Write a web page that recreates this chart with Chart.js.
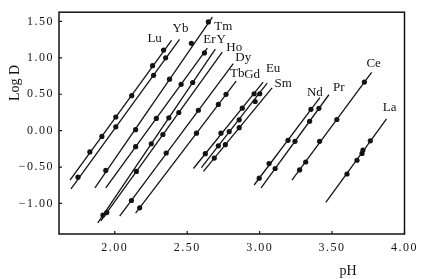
<!DOCTYPE html>
<html>
<head>
<meta charset="utf-8">
<script src="https://cdn.jsdelivr.net/npm/chart.js@4.4.1/dist/chart.umd.min.js"></script>
<style>
  html, body { margin: 0; padding: 0; background: #fff; }
  #wrap { width: 422px; height: 279px; }
</style>
</head>
<body>
<div id="wrap"><canvas id="chart" width="422" height="279"></canvas></div>
<script>
// extraction of the rare earths: log D against pH
var elementNames = ['Lu', 'Yb', 'Tm', 'Er', 'Y', 'Ho', 'Dy', 'Tb', 'Gd', 'Eu', 'Sm', 'Nd', 'Pr', 'Ce', 'La'];

// measured points [pH, log D] for each element, same order as elementNames
var measuredPoints = [
  [[1.828, -0.293], [1.911, -0.08], [2.007, 0.187], [2.117, 0.48], [2.261, 0.893], [2.337, 1.107]],
  [[1.746, -0.64], [2.007, 0.053], [2.268, 0.76], [2.351, 1.0]],
  [[1.938, -0.547], [2.144, 0.013], [2.378, 0.707], [2.529, 1.2], [2.646, 1.493]],
  [[2.144, -0.22], [2.287, 0.168], [2.458, 0.636], [2.619, 1.067]],
  [[1.918, -1.16], [2.252, -0.18], [2.373, 0.176], [2.538, 0.661]],
  [[1.945, -1.125], [2.149, -0.56], [2.332, -0.053], [2.442, 0.249]],
  [[2.115, -0.96], [2.355, -0.307], [2.577, 0.28]],
  [[2.172, -1.061], [2.564, -0.035], [2.715, 0.36], [2.768, 0.499]],
  [[2.625, -0.316], [2.733, -0.035], [2.880, 0.309], [2.962, 0.507]],
  [[2.715, -0.208], [2.790, -0.013], [2.859, 0.149], [3.001, 0.507]],
  [[2.687, -0.377], [2.763, -0.193], [2.859, 0.04], [2.969, 0.4]],
  [[2.997, -0.653], [3.065, -0.453], [3.196, -0.133], [3.354, 0.293]],
  [[3.107, -0.52], [3.244, -0.147], [3.345, 0.129], [3.409, 0.307]],
  [[3.276, -0.54], [3.318, -0.431], [3.414, -0.147], [3.533, 0.153], [3.723, 0.667]],
  [[3.603, -0.596], [3.672, -0.407], [3.707, -0.313], [3.713, -0.267], [3.764, -0.14]]
];

// ends of the drawn straight lines [[pH, logD], [pH, logD]]
var lineEnds = [
  [[1.691, -0.68], [2.392, 1.24]],
  [[1.698, -0.80], [2.447, 1.253]],
  [[1.863, -0.787], [2.674, 1.56]],
  [[1.938, -0.787], [2.639, 1.133]],
  [[1.883, -1.267], [2.694, 1.12]],
  [[1.904, -1.24], [2.742, 1.08]],
  [[2.034, -1.173], [2.818, 0.92]],
  [[2.144, -1.133], [2.838, 0.68]],
  [[2.543, -0.52], [3.024, 0.667]],
  [[2.598, -0.507], [3.052, 0.653]],
  [[2.612, -0.56], [3.086, 0.587]],
  [[2.962, -0.747], [3.416, 0.453]],
  [[3.010, -0.787], [3.478, 0.493]],
  [[3.223, -0.68], [3.773, 0.8]],
  [[3.457, -0.987], [3.876, 0.16]]
];

// where the element names sit
var labelAnchors = [
  [2.275, 1.267], [2.454, 1.40], [2.749, 1.427], [2.653, 1.253], [2.735, 1.253],
  [2.825, 1.147], [2.887, 1.0], [2.845, 0.787], [2.948, 0.773], [3.093, 0.853],
  [3.162, 0.64], [3.381, 0.52], [3.546, 0.587], [3.787, 0.92], [3.897, 0.32]
];

var xTicks = [2.0, 2.5, 3.0, 3.5, 4.0];
var yTicks = [-1.0, -0.5, 0.0, 0.5, 1.0, 1.5];
var xRange = [1.615, 4.0];
var yRange = [-1.42, 1.627];

var ink = '#141414';
var serif = "'Liberation Serif', 'DejaVu Serif', serif";

var toXY = function (p) { return {x: p[0], y: p[1]}; };

var datasets = [];
for (var i = 0; i < elementNames.length; i++) {
  datasets.push({
    label: elementNames[i] + ' line',
    data: lineEnds[i].map(toXY),
    showLine: true,
    borderColor: ink,
    borderWidth: 1.3,
    pointRadius: 0
  });
  datasets.push({
    label: elementNames[i],
    data: measuredPoints[i].map(toXY),
    showLine: false,
    pointRadius: 2.6,
    pointBackgroundColor: ink,
    pointBorderColor: ink,
    pointBorderWidth: 0
  });
}

var fixTicks = function (values) {
  return function (scale) {
    scale.ticks = values.map(function (v) { return {value: v}; });
  };
};

var framePlugin = {
  id: 'frame',
  beforeDraw: function (chart) {
    chart.ctx.letterSpacing = '1.5px';
  },
  beforeDatasetsDraw: function (chart) {
    chart.ctx.letterSpacing = '0px';
  },
  afterDatasetsDraw: function (chart) {
    var ctx = chart.ctx;
    var a = chart.chartArea;
    var sx = chart.scales.x;
    var sy = chart.scales.y;
    ctx.save();
    ctx.letterSpacing = '0px';
    ctx.strokeStyle = ink;
    ctx.lineWidth = 1.5;
    ctx.strokeRect(a.left, a.top, a.right - a.left, a.bottom - a.top);

    // short inward ticks
    ctx.lineWidth = 1.2;
    ctx.beginPath();
    xTicks.forEach(function (v) {
      var px = sx.getPixelForValue(v);
      ctx.moveTo(px, a.bottom);
      ctx.lineTo(px, a.bottom - 3);
    });
    yTicks.forEach(function (v) {
      var py = sy.getPixelForValue(v);
      ctx.moveTo(a.left, py);
      ctx.lineTo(a.left + 3, py);
    });
    ctx.stroke();

    // element names
    ctx.fillStyle = ink;
    ctx.font = '13px ' + serif;
    ctx.textAlign = 'center';
    ctx.textBaseline = 'middle';
    for (var k = 0; k < elementNames.length; k++) {
      ctx.fillText(elementNames[k], sx.getPixelForValue(labelAnchors[k][0]), sy.getPixelForValue(labelAnchors[k][1]));
    }

    // axis titles
    ctx.font = '14px ' + serif;
    ctx.fillText('pH', 348, 271);
    ctx.translate(15, 83);
    ctx.rotate(-Math.PI / 2);
    ctx.fillText('Log D', 0, 0);
    ctx.restore();
  }
};

new Chart(document.getElementById('chart'), {
  type: 'scatter',
  data: {datasets: datasets},
  options: {
    responsive: false,
    animation: false,
    layout: {padding: {top: 5, right: 16, left: 0, bottom: 0}},
    plugins: {legend: {display: false}, tooltip: {enabled: false}},
    scales: {
      x: {
        type: 'linear',
        min: xRange[0],
        max: xRange[1],
        afterBuildTicks: fixTicks(xTicks),
        afterFit: function (scale) { scale.height = 45; },
        grid: {display: false, drawTicks: false},
        border: {display: false},
        ticks: {
          color: ink,
          padding: 7,
          maxRotation: 0,
          font: {family: serif, size: 12},
          callback: function (v) { return Number(v).toFixed(2); }
        }
      },
      y: {
        type: 'linear',
        min: yRange[0],
        max: yRange[1],
        afterBuildTicks: fixTicks(yTicks),
        afterFit: function (scale) { scale.width = 59; },
        grid: {display: false, drawTicks: false},
        border: {display: false},
        ticks: {
          color: ink,
          padding: 5,
          font: {family: serif, size: 12},
          callback: function (v) {
            return v < 0 ? '\u2212' + Math.abs(v).toFixed(2) : Number(v).toFixed(2);
          }
        }
      }
    }
  },
  plugins: [framePlugin]
});
</script>
</body>
</html>
